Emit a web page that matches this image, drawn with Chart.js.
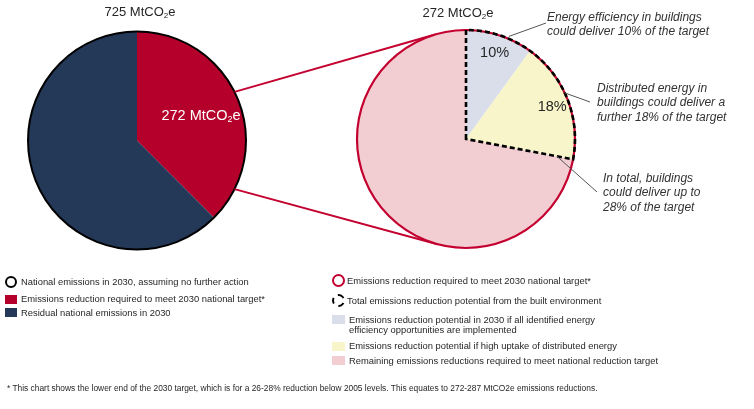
<!DOCTYPE html>
<html><head><meta charset="utf-8">
<script src="https://cdn.jsdelivr.net/npm/chart.js@4"></script>
<style>
html,body{margin:0;padding:0;background:#fff;}
#wrap{position:relative;width:754px;height:409px;overflow:hidden;font-family:"Liberation Sans",Arial,sans-serif;color:#262626;}
canvas{position:absolute;left:0;top:0;}
.t{position:absolute;white-space:nowrap;}
.c{transform:translateX(-50%);}
.sub{font-size:0.62em;position:relative;top:0.25em;}
.it{font-style:italic;color:#333;}
.ic{position:absolute;box-sizing:border-box;}
</style></head>
<body><div id="wrap">
<canvas id="c1" width="754" height="409"></canvas>
<canvas id="c2" width="754" height="409"></canvas>
</div>
<script>
// ---------- data ----------
const leftTitle = '725';              // MtCO2e national emissions 2030
const leftCategories = ['Emissions reduction required to meet 2030 national target*', 'Residual national emissions in 2030'];
const leftValues = [272, 453];        // MtCO2e
const rightTitle = '272';             // MtCO2e reduction required
const rightCategories = ['Energy efficiency in buildings', 'Distributed energy in buildings', 'Remaining emissions reductions'];
const rightValues = [10, 18, 72];     // % of the target
const rightLabels = ['10%', '18%'];
const notes = [
  ['Energy efficiency in buildings', 'could deliver 10% of the target'],
  ['Distributed energy in', 'buildings could deliver a', 'further 18% of the target'],
  ['In total, buildings', 'could deliver up to', '28% of the target']
];
const legendLeft = [
  'National emissions in 2030, assuming no further action',
  'Emissions reduction required to meet 2030 national target*',
  'Residual national emissions in 2030'
];
const legendRight = [
  'Emissions reduction required to meet 2030 national target*',
  'Total emissions reduction potential from the built environment',
  'Emissions reduction potential in 2030 if all identified energy<br>efficiency opportunities are implemented',
  'Emissions reduction potential if high uptake of distributed energy',
  'Remaining emissions reductions required to meet national reduction target'
];
const footnote = '* This chart shows the lower end of the 2030 target, which is for a 26-28% reduction below 2005 levels. This equates to 272-287 MtCO2e emissions reductions.';

const RED = '#B5002B', NAVY = '#243858', RING = '#C3002F';
const BLUE = '#D9DEEA', YELLOW = '#F7F5C9', PINK = '#F2CDD1';

const wrap = document.getElementById('wrap');
// cy = centre of the first line
function addText(html, left, cy, size, lh, cls, extra) {
  const d = document.createElement('div');
  d.className = 't ' + (cls || '');
  d.style.left = left + 'px';
  d.style.top = (cy - lh / 2) + 'px';
  d.style.fontSize = size + 'px';
  d.style.lineHeight = lh + 'px';
  if (extra) Object.assign(d.style, extra);
  d.innerHTML = html;
  wrap.appendChild(d);
  return d;
}
function addIcon(left, top, w, h, style) {
  const d = document.createElement('div');
  d.className = 'ic';
  Object.assign(d.style, {left: left + 'px', top: top + 'px', width: w + 'px', height: h + 'px'}, style);
  wrap.appendChild(d);
}
const co2 = ' MtCO<span class="sub">2</span>e';

// ---------- chart 1 (left pie) ----------
const outline1 = {
  id: 'outline1',
  afterDatasetsDraw(chart) {
    const a = chart.getDatasetMeta(0).data[0];
    const ctx = chart.ctx;
    ctx.save();
    ctx.beginPath();
    ctx.arc(a.x, a.y, a.outerRadius, 0, Math.PI * 2);
    ctx.lineWidth = 2;
    ctx.strokeStyle = '#000';
    ctx.stroke();
    ctx.restore();
  }
};
const c1 = new Chart(document.getElementById('c1'), {
  type: 'pie',
  data: { labels: leftCategories, datasets: [{ data: leftValues, backgroundColor: [RED, NAVY], borderWidth: 0 }] },
  options: {
    responsive: false, animation: false, events: [],
    layout: { padding: { left: 28, top: 31.5, right: 508, bottom: 159.5 } },
    plugins: { legend: { display: false }, tooltip: { enabled: false } }
  },
  plugins: [outline1]
});

// ---------- chart 2 (right pie) ----------
function tangentPoint(px, py, cx, cy, r, upper) {
  const dx = px - cx, dy = py - cy, d = Math.hypot(dx, dy);
  const th = Math.atan2(dy, dx), al = Math.acos(r / d);
  const p1 = [cx + r * Math.cos(th + al), cy + r * Math.sin(th + al)];
  const p2 = [cx + r * Math.cos(th - al), cy + r * Math.sin(th - al)];
  if (upper) return p1[1] < p2[1] ? p1 : p2;
  return p1[1] > p2[1] ? p1 : p2;
}
const deco2 = {
  id: 'deco2',
  beforeDatasetsDraw(chart) {
    const a = c1.getDatasetMeta(0).data[0];
    const b = chart.getDatasetMeta(0).data[0];
    const ctx = chart.ctx;
    ctx.save();
    ctx.strokeStyle = RING; ctx.lineWidth = 2;
    [-26.5, 26.5].forEach(deg => {
      const t = deg * Math.PI / 180;
      const px = a.x + a.outerRadius * Math.cos(t), py = a.y + a.outerRadius * Math.sin(t);
      const q = tangentPoint(px, py, b.x, b.y, b.outerRadius, deg < 0);
      ctx.beginPath(); ctx.moveTo(px, py); ctx.lineTo(q[0], q[1]); ctx.stroke();
    });
    ctx.restore();
  },
  afterDatasetsDraw(chart) {
    const meta = chart.getDatasetMeta(0).data;
    const b = meta[0];
    const cx = b.x, cy = b.y, r = b.outerRadius;
    const ctx = chart.ctx;
    ctx.save();
    ctx.beginPath(); ctx.arc(cx, cy, r, 0, Math.PI * 2);
    ctx.strokeStyle = RING; ctx.lineWidth = 2.2; ctx.stroke();
    const s = meta[0].startAngle, e = meta[1].endAngle;
    ctx.beginPath();
    ctx.moveTo(cx, cy);
    ctx.lineTo(cx + r * Math.cos(s), cy + r * Math.sin(s));
    ctx.arc(cx, cy, r, s, e);
    ctx.closePath();
    ctx.setLineDash([5, 3]);
    ctx.strokeStyle = '#000'; ctx.lineWidth = 2.6; ctx.stroke();
    ctx.setLineDash([]);
    ctx.strokeStyle = '#555'; ctx.lineWidth = 1;
    const leaders = [[22.7 * Math.PI / 180 - Math.PI / 2, 1.02, 546, 23],
                     [65 * Math.PI / 180 - Math.PI / 2, 1.0, 590, 102],
                     [e, 0.85, 597, 192]];
    leaders.forEach(([ang, f, ex, ey]) => {
      ctx.beginPath();
      ctx.moveTo(cx + r * f * Math.cos(ang), cy + r * f * Math.sin(ang));
      ctx.lineTo(ex, ey); ctx.stroke();
    });
    ctx.restore();
    rightLabels.forEach((lab, i) => {
      const arc = meta[i];
      const mid = (arc.startAngle + arc.endAngle) / 2;
      const rr = r * 0.85;
      addText(lab, cx + rr * Math.cos(mid), cy + rr * Math.sin(mid) + 1.5, 14.5, 16, 'c');
    });
  }
};
const c2 = new Chart(document.getElementById('c2'), {
  type: 'pie',
  data: { labels: rightCategories, datasets: [{ data: rightValues, backgroundColor: [BLUE, YELLOW, PINK], borderWidth: 0 }] },
  options: {
    responsive: false, animation: false, events: [],
    layout: { padding: { left: 357, top: 30, right: 179, bottom: 161 } },
    plugins: { legend: { display: false }, tooltip: { enabled: false } }
  },
  plugins: [deco2]
});

// ---------- texts ----------
addText(leftTitle + co2, 140, 12, 13, 16, 'c');
addText(rightTitle + co2, 458, 13, 13, 16, 'c');
addText('272' + co2, 201, 115, 14.5, 18, 'c', {color: '#fff'});
addText(notes[0].join('<br>'), 547, 17, 12, 14, 'it');
addText(notes[1].join('<br>'), 597, 88, 12, 14.5, 'it');
addText(notes[2].join('<br>'), 603, 178, 12, 14.5, 'it');

// left legend
addIcon(5, 276, 12, 12, {border: '2px solid #000', borderRadius: '50%'});
addText(legendLeft[0], 21, 281.5, 9.4, 12);
addIcon(5, 295, 12, 9, {background: RED});
addText(legendLeft[1], 21, 299, 9.4, 12);
addIcon(5, 308, 12, 9, {background: NAVY});
addText(legendLeft[2], 21, 313, 9.4, 12);

// right legend
addIcon(332, 274, 13, 13, {border: '2px solid ' + RING, borderRadius: '50%'});
addText(legendRight[0], 347, 280.5, 9.4, 12);
addIcon(332, 294, 13, 13, {border: '2.5px dashed #000', borderRadius: '50%'});
addText(legendRight[1], 347, 300.5, 9.4, 12);
addIcon(332, 315, 13, 9, {background: BLUE});
addText(legendRight[2], 349, 320, 9.4, 10.5);
addIcon(332, 342, 13, 9, {background: YELLOW});
addText(legendRight[3], 349, 346, 9.4, 12);
addIcon(332, 356, 13, 9, {background: PINK});
addText(legendRight[4], 349, 360.5, 9.4, 12);

addText(footnote, 7, 388, 8.4, 10);
</script>
</body></html>
